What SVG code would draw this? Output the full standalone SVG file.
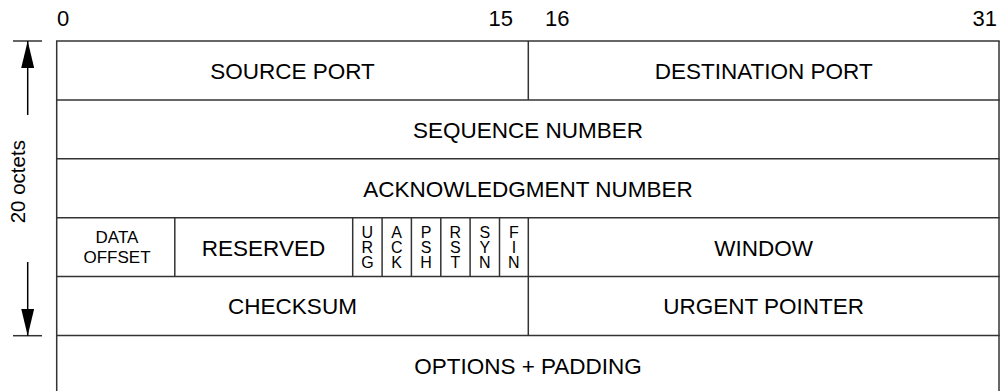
<svg xmlns="http://www.w3.org/2000/svg" width="1000" height="391" viewBox="0 0 1000 391">
<style>
text{font-family:"Liberation Sans",Arial,sans-serif;fill:#000}
.lbl{font-size:22.5px;text-anchor:middle}
.num{font-size:22px}
.sm{font-size:17px;text-anchor:middle}
.fl{font-size:16px;text-anchor:middle}
.ln{stroke:#333;stroke-width:1.5;fill:none}
</style>
<defs>
<marker id="ah" markerWidth="27" markerHeight="13" refX="27" refY="6.5" orient="auto" markerUnits="userSpaceOnUse" viewBox="0 0 27 13">
<path d="M0,0 L27,6.5 L0,13 Z" fill="#000"/>
</marker>
</defs>
<g id="bit-numbers">
<text class="num" x="57" y="26">0</text>
<text class="num" x="513" y="26" text-anchor="end">15</text>
<text class="num" x="545" y="26">16</text>
<text class="num" x="997" y="26" text-anchor="end">31</text>
</g>
<g id="size-indicator">
<line class="ln" x1="13" y1="41" x2="42" y2="41"/>
<line class="ln" x1="13" y1="335.7" x2="42" y2="335.7"/>
<line x1="27.7" y1="115" x2="27.7" y2="41" stroke="#000" stroke-width="1.5" marker-end="url(#ah)"/>
<line x1="27.7" y1="262" x2="27.7" y2="335.7" stroke="#000" stroke-width="1.5" marker-end="url(#ah)"/>
<text transform="translate(25,181.7) rotate(-90)" font-size="20.5" text-anchor="middle">20 octets</text>
</g>
<g id="frame">
<line class="ln" x1="56.7" y1="41" x2="56.7" y2="391"/>
<line class="ln" x1="999" y1="41" x2="999" y2="391"/>
<line class="ln" x1="56" y1="41" x2="999.7" y2="41"/>
<line class="ln" x1="56" y1="99.9" x2="999.7" y2="99.9"/>
<line class="ln" x1="56" y1="158.8" x2="999.7" y2="158.8"/>
<line class="ln" x1="56" y1="217.7" x2="999.7" y2="217.7"/>
<line class="ln" x1="56" y1="276.6" x2="999.7" y2="276.6"/>
<line class="ln" x1="56" y1="335.5" x2="999.7" y2="335.5"/>
</g>
<g id="source-port">
<line class="ln" x1="528.3" y1="41" x2="528.3" y2="99.9"/>
<text class="lbl" x="292.5" y="79">SOURCE PORT</text>
</g>
<g id="destination-port">
<text class="lbl" x="763.7" y="79">DESTINATION PORT</text>
</g>
<g id="sequence-number">
<text class="lbl" x="528" y="137.8">SEQUENCE NUMBER</text>
</g>
<g id="ack-number">
<text class="lbl" x="528" y="196.7">ACKNOWLEDGMENT NUMBER</text>
</g>
<g id="data-offset">
<line class="ln" x1="174.8" y1="217.7" x2="174.8" y2="276.6"/>
<text class="sm" x="117" y="242.7">DATA</text>
<text class="sm" x="117" y="262.7">OFFSET</text>
</g>
<g id="reserved">
<line class="ln" x1="352.7" y1="217.7" x2="352.7" y2="276.6"/>
<text class="lbl" x="263.5" y="256">RESERVED</text>
</g>
<g id="flags">
<line class="ln" x1="382.1" y1="217.7" x2="382.1" y2="276.6"/>
<line class="ln" x1="411.4" y1="217.7" x2="411.4" y2="276.6"/>
<line class="ln" x1="440.8" y1="217.7" x2="440.8" y2="276.6"/>
<line class="ln" x1="470.1" y1="217.7" x2="470.1" y2="276.6"/>
<line class="ln" x1="499.5" y1="217.7" x2="499.5" y2="276.6"/>
<line class="ln" x1="528.3" y1="217.7" x2="528.3" y2="335.5"/>
<text class="fl" x="367.4" y="237.5">U</text><text class="fl" x="367.4" y="252.5">R</text><text class="fl" x="367.4" y="267.5">G</text>
<text class="fl" x="396.7" y="237.5">A</text><text class="fl" x="396.7" y="252.5">C</text><text class="fl" x="396.7" y="267.5">K</text>
<text class="fl" x="426.1" y="237.5">P</text><text class="fl" x="426.1" y="252.5">S</text><text class="fl" x="426.1" y="267.5">H</text>
<text class="fl" x="455.4" y="237.5">R</text><text class="fl" x="455.4" y="252.5">S</text><text class="fl" x="455.4" y="267.5">T</text>
<text class="fl" x="484.8" y="237.5">S</text><text class="fl" x="484.8" y="252.5">Y</text><text class="fl" x="484.8" y="267.5">N</text>
<text class="fl" x="513.9" y="237.5">F</text><text class="fl" x="513.9" y="252.5">I</text><text class="fl" x="513.9" y="267.5">N</text>
</g>
<g id="window">
<text class="lbl" x="763.7" y="255.5">WINDOW</text>
</g>
<g id="checksum">
<text class="lbl" x="292.5" y="314.4">CHECKSUM</text>
</g>
<g id="urgent-pointer">
<text class="lbl" x="763.7" y="314.4">URGENT POINTER</text>
</g>
<g id="options-padding">
<text class="lbl" x="528" y="373.5">OPTIONS + PADDING</text>
</g>
</svg>
